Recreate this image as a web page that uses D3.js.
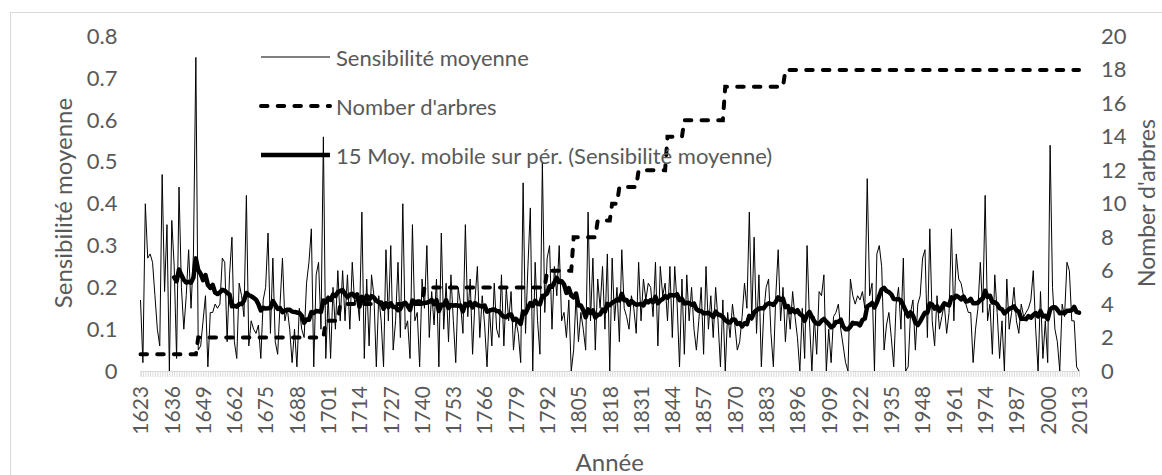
<!DOCTYPE html>
<html>
<head>
<meta charset="utf-8">
<script src="https://cdn.jsdelivr.net/npm/d3@7"></script>
<style>
  body { margin: 0; background: #fff; }
  text { font-family: Lato, "Open Sans", sans-serif; fill: #595959; }
</style>
</head>
<body>
<svg id="chart" width="1162" height="475"></svg>
<script>
// yearly mean sensitivity, 1623 -> 2013
const firstYear = 1623;
const sensitivity = [
  0.17, 0.02, 0.40, 0.27, 0.28, 0.26, 0.18,
  0.10, 0.06, 0.47, 0.19, 0.35, 0.00, 0.36, 0.25, 0.03, 0.44,
  0.20, 0.10, 0.18, 0.29, 0.15, 0.28, 0.75, 0.05, 0.06, 0.12,
  0.18, 0.01, 0.14, 0.14, 0.16, 0.15, 0.16, 0.27, 0.26, 0.07,
  0.23, 0.32, 0.07, 0.03, 0.21, 0.18, 0.13, 0.42, 0.06, 0.12,
  0.10, 0.09, 0.11, 0.03, 0.17, 0.20, 0.33, 0.09, 0.27, 0.07,
  0.04, 0.16, 0.27, 0.12, 0.15, 0.10, 0.02, 0.10, 0.01, 0.15,
  0.10, 0.08, 0.21, 0.26, 0.34, 0.01, 0.23, 0.26, 0.10, 0.56,
  0.03, 0.18, 0.03, 0.20, 0.10, 0.24, 0.12, 0.24, 0.12, 0.23,
  0.10, 0.26, 0.16, 0.18, 0.12, 0.38, 0.03, 0.22, 0.06, 0.23,
  0.18, 0.01, 0.18, 0.12, 0.01, 0.29, 0.12, 0.30, 0.05, 0.12,
  0.26, 0.08, 0.40, 0.10, 0.12, 0.03, 0.35, 0.12, 0.14, 0.01,
  0.22, 0.15, 0.30, 0.08, 0.19, 0.11, 0.22, 0.01, 0.33, 0.10,
  0.21, 0.07, 0.23, 0.12, 0.02, 0.20, 0.16, 0.09, 0.35, 0.13,
  0.22, 0.04, 0.17, 0.25, 0.08, 0.18, 0.11, 0.01, 0.15, 0.06,
  0.21, 0.10, 0.08, 0.23, 0.06, 0.20, 0.12, 0.19, 0.05, 0.12,
  0.09, 0.02, 0.45, 0.09, 0.25, 0.39, 0.00, 0.26, 0.12, 0.04,
  0.50, 0.14, 0.27, 0.30, 0.10, 0.25, 0.18, 0.30, 0.12, 0.14,
  0.08, 0.17, 0.00, 0.05, 0.18, 0.07, 0.14, 0.10, 0.05, 0.38,
  0.12, 0.27, 0.05, 0.22, 0.15, 0.25, 0.10, 0.28, 0.00, 0.27,
  0.12, 0.20, 0.07, 0.29, 0.15, 0.13, 0.10, 0.18, 0.15, 0.09,
  0.26, 0.12, 0.22, 0.17, 0.21, 0.20, 0.13, 0.26, 0.06, 0.25,
  0.18, 0.21, 0.12, 0.25, 0.08, 0.25, 0.16, 0.01, 0.22, 0.04,
  0.23, 0.12, 0.20, 0.10, 0.05, 0.12, 0.20, 0.04, 0.25, 0.10,
  0.18, 0.08, 0.20, 0.12, 0.01, 0.17, 0.00, 0.14, 0.08, 0.16,
  0.11, 0.05, 0.07, 0.13, 0.21, 0.15, 0.38, 0.12, 0.32, 0.09,
  0.23, 0.01, 0.14, 0.20, 0.22, 0.09, 0.01, 0.18, 0.29, 0.12,
  0.20, 0.07, 0.16, 0.10, 0.19, 0.13, 0.08, 0.00, 0.15, 0.03,
  0.30, 0.12, 0.00, 0.13, 0.04, 0.19, 0.18, 0.23, 0.00, 0.10,
  0.02, 0.13, 0.14, 0.16, 0.10, 0.06, 0.02, 0.00, 0.22, 0.18,
  0.16, 0.18, 0.17, 0.19, 0.15, 0.46, 0.18, 0.21, 0.00, 0.28,
  0.30, 0.25, 0.05, 0.11, 0.14, 0.08, 0.01, 0.16, 0.20, 0.10,
  0.27, 0.00, 0.01, 0.14, 0.17, 0.05, 0.16, 0.18, 0.27, 0.29,
  0.08, 0.34, 0.12, 0.06, 0.18, 0.10, 0.13, 0.16, 0.09, 0.14,
  0.34, 0.12, 0.28, 0.22, 0.21, 0.18, 0.16, 0.14, 0.14, 0.02,
  0.10, 0.15, 0.26, 0.14, 0.42, 0.12, 0.16, 0.04, 0.23, 0.14,
  0.03, 0.12, 0.00, 0.22, 0.10, 0.14, 0.20, 0.12, 0.09, 0.16,
  0.13, 0.14, 0.15, 0.17, 0.24, 0.10, 0.00, 0.19, 0.03, 0.12,
  0.02, 0.54, 0.20, 0.10, 0.07, 0.00, 0.16, 0.13, 0.26, 0.24,
  0.12, 0.12, 0.01, 0.00
];

// number of trees: year a new count starts, and the count
const treeStepYears = [1623, 1647, 1700, 1706, 1741, 1792, 1803, 1813, 1819, 1822, 1830, 1842, 1849, 1866, 1891];
const treeCounts    = [1, 2, 3, 4, 5, 6, 8, 9, 10, 11, 12, 14, 15, 17, 18];

const yearLabels = [1623, 1636, 1649, 1662, 1675, 1688, 1701, 1714, 1727, 1740, 1753,
  1766, 1779, 1792, 1805, 1818, 1831, 1844, 1857, 1870, 1883, 1896, 1909, 1922, 1935,
  1948, 1961, 1974, 1987, 2000, 2013];
const leftTicks = [0, 0.1, 0.2, 0.3, 0.4, 0.5, 0.6, 0.7, 0.8];
const rightTicks = [0, 2, 4, 6, 8, 10, 12, 14, 16, 18, 20];
const legendNames = ["Sensibilité moyenne", "Nomber d'arbres", "15 Moy. mobile sur pér. (Sensibilité moyenne)"];
const maPeriod = 15;

const svg = d3.select("#chart");
const plotL = 140.5, plotR = 1079, plotT = 36.5, plotB = 371;

const years = sensitivity.map((d, i) => firstYear + i);
const trees = years.map(yr => treeCounts[d3.bisectRight(treeStepYears, yr) - 1]);
// Excel style trailing moving average
const movAvg = [];
for (let i = maPeriod - 1; i < sensitivity.length; i++) {
  movAvg.push({ year: years[i], v: d3.mean(sensitivity.slice(i - maPeriod + 1, i + 1)) });
}

const x = d3.scalePoint().domain(years).range([plotL, plotR]);
const y = d3.scaleLinear().domain([0, 0.8]).range([plotB, plotT]);
const y2 = d3.scaleLinear().domain([0, 20]).range([plotB, plotT]);

svg.append("rect")
  .attr("x", 10.5).attr("y", 12.5)
  .attr("width", 1170).attr("height", 480)
  .attr("fill", "#fff").attr("stroke", "#d9d9d9");

// category axis: a grey tick for every year
const xAxis = svg.append("g")
  .attr("transform", "translate(0," + plotB + ")")
  .call(d3.axisBottom(x).tickValues(years).tickSize(6).tickFormat(""));
xAxis.select(".domain").attr("stroke", "#d9d9d9");
xAxis.selectAll(".tick line").attr("stroke", "#d9d9d9");

const xLab = svg.append("g")
  .attr("transform", "translate(0," + plotB + ")")
  .call(d3.axisBottom(x).tickValues(yearLabels).tickSize(0));
xLab.select(".domain").remove();
xLab.selectAll("text")
  .attr("transform", "rotate(-90)")
  .attr("x", -15).attr("y", 0).attr("dy", "0.35em")
  .style("text-anchor", "end")
  .style("font-size", "21px");

const yAxis = svg.append("g")
  .attr("transform", "translate(" + plotL + ",0)")
  .call(d3.axisLeft(y).tickValues(leftTicks).tickSize(0).tickPadding(23)
    .tickFormat(d => d === 0 ? "0" : d3.format(".1f")(d)));
yAxis.select(".domain").remove();
yAxis.selectAll("text").style("font-size", "22px");

const y2Axis = svg.append("g")
  .attr("transform", "translate(" + plotR + ",0)")
  .call(d3.axisRight(y2).tickValues(rightTicks).tickSize(0).tickPadding(22));
y2Axis.select(".domain").remove();
y2Axis.selectAll("text").style("font-size", "22px");

svg.selectAll(".tick text").attr("fill", "#595959").style("font-family", "Lato, 'Open Sans', sans-serif");

// series
svg.append("path")
  .datum(sensitivity)
  .attr("fill", "none").attr("stroke", "#000").attr("stroke-width", 1)
  .attr("stroke-linejoin", "round")
  .attr("d", d3.line().x((d, i) => x(years[i])).y(d => y(d)));

svg.append("path")
  .datum(trees)
  .attr("fill", "none").attr("stroke", "#000").attr("stroke-width", 4)
  .attr("stroke-dasharray", "6.5,10.2").attr("stroke-linecap", "round")
  .attr("d", d3.line().x((d, i) => x(years[i])).y(d => y2(d)));

svg.append("path")
  .datum(movAvg)
  .attr("fill", "none").attr("stroke", "#000").attr("stroke-width", 4.5)
  .attr("stroke-linejoin", "round").attr("stroke-linecap", "round")
  .attr("d", d3.line().x(d => x(d.year)).y(d => y(d.v)));

// legend
const legendY = [57, 106, 155];
const legend = svg.append("g");
legendNames.forEach((name, i) => {
  const ln = legend.append("line")
    .attr("x1", 261).attr("x2", 330)
    .attr("y1", legendY[i]).attr("y2", legendY[i])
    .attr("stroke", "#000");
  if (i === 0) ln.attr("stroke-width", 1);
  if (i === 1) ln.attr("stroke-width", 4).attr("stroke-dasharray", "6.5,10.2").attr("stroke-linecap", "round");
  if (i === 2) ln.attr("stroke-width", 4.5);
  legend.append("text")
    .attr("x", 336).attr("y", legendY[i])
    .attr("dominant-baseline", "central")
    .style("font-size", "22px")
    .text(name);
});

// axis titles
svg.append("text")
  .attr("transform", "translate(62,203) rotate(-90)")
  .attr("text-anchor", "middle").attr("dominant-baseline", "central")
  .style("font-size", "24px")
  .text("Sensibilité moyenne");

svg.append("text")
  .attr("transform", "translate(1146,203) rotate(-90)")
  .attr("text-anchor", "middle").attr("dominant-baseline", "central")
  .style("font-size", "23px")
  .text("Nomber d'arbres");

svg.append("text")
  .attr("x", (plotL + plotR) / 2).attr("y", 461)
  .attr("text-anchor", "middle").attr("dominant-baseline", "central")
  .style("font-size", "24px")
  .text("Année");
</script>
</body>
</html>
